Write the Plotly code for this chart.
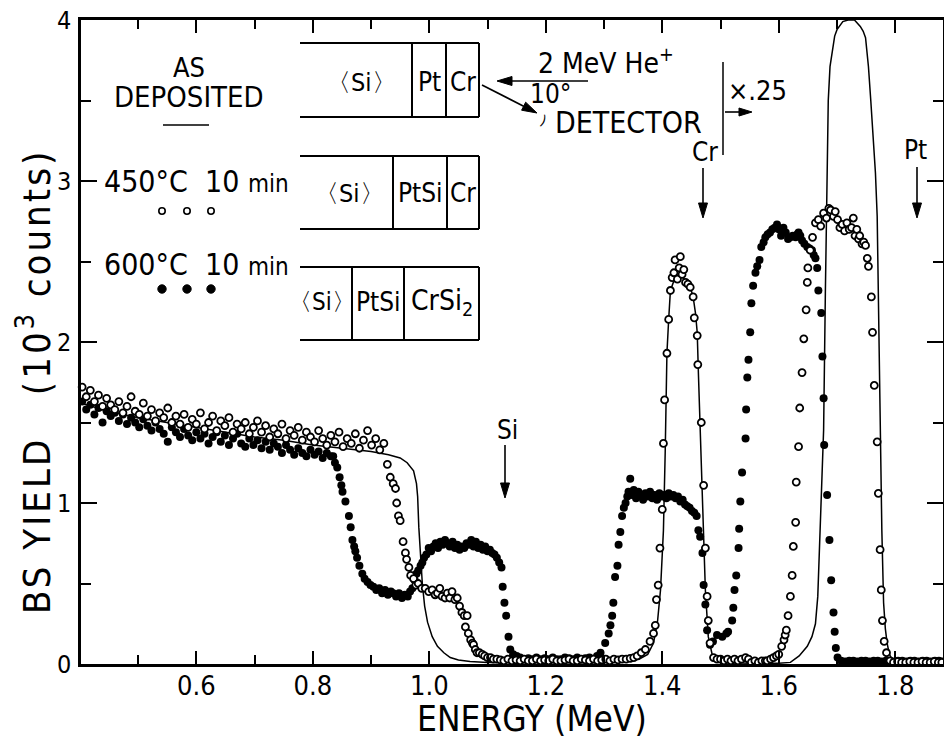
import math
import plotly.graph_objects as go

# ---------------- data ----------------
# As deposited: solid line (energy MeV, yield 10^3 counts)
dep_E = [0.402, 0.45, 0.50, 0.55, 0.60, 0.65, 0.70, 0.75, 0.80, 0.85, 0.90, 0.93, 0.95, 0.962, 0.973,
         0.978, 0.980, 0.982, 0.985, 0.988, 0.992, 0.997, 1.005, 1.014, 1.025, 1.036, 1.05, 1.07, 1.10,
         1.15, 1.20, 1.25, 1.30, 1.33, 1.36, 1.375, 1.385, 1.392, 1.397, 1.402, 1.405, 1.408, 1.411,
         1.414, 1.419, 1.426, 1.435, 1.443, 1.449, 1.453, 1.457, 1.460, 1.462, 1.465, 1.468, 1.471,
         1.474, 1.479, 1.488, 1.50, 1.55, 1.60, 1.62, 1.635, 1.649, 1.657, 1.663, 1.667, 1.671, 1.674,
         1.677, 1.680, 1.683, 1.685, 1.688, 1.692, 1.696, 1.700, 1.710, 1.719, 1.730, 1.740, 1.745,
         1.749, 1.754, 1.758, 1.762, 1.766, 1.769, 1.772, 1.774, 1.777, 1.780, 1.783, 1.786, 1.790,
         1.796, 1.81, 1.85, 1.882]
dep_Y = [1.62, 1.57, 1.53, 1.50, 1.47, 1.44, 1.41, 1.39, 1.36, 1.34, 1.32, 1.30, 1.28, 1.25, 1.20,
         1.12, 1.04, 0.85, 0.65, 0.50, 0.36, 0.26, 0.17, 0.11, 0.07, 0.04, 0.025, 0.015, 0.01,
         0.008, 0.008, 0.008, 0.01, 0.015, 0.03, 0.06, 0.13, 0.27, 0.46, 0.83, 1.31, 1.93, 2.14,
         2.32, 2.37, 2.40, 2.40, 2.37, 2.33, 2.28, 2.18, 2.06, 1.81, 1.45, 1.15, 0.83,
         0.46, 0.17, 0.02, 0.01, 0.005, 0.005, 0.01, 0.05, 0.11, 0.17, 0.25, 0.42, 0.83, 1.10,
         1.45, 2.30, 3.10, 3.50, 3.71, 3.81, 3.90, 3.94, 3.99, 4.00, 4.00, 3.96, 3.93,
         3.89, 3.71, 3.50, 3.30, 3.05, 2.78, 2.00, 1.45, 0.83, 0.38, 0.22, 0.13, 0.06,
         0.02, 0.01, 0.01, 0.01]

# 450 C 10 min: open circles
o450_E = [0.404, 0.411, 0.418, 0.425, 0.432, 0.439, 0.446, 0.453, 0.460, 0.467, 0.474, 0.481, 0.488,
          0.495, 0.502, 0.509, 0.516, 0.523, 0.530, 0.537, 0.544, 0.551, 0.558, 0.565, 0.572, 0.579,
          0.586, 0.593, 0.600, 0.607, 0.614, 0.621, 0.628, 0.635, 0.642, 0.649, 0.656, 0.663, 0.670,
          0.677, 0.684, 0.691, 0.698, 0.705, 0.712, 0.719, 0.726, 0.733, 0.740, 0.747, 0.754, 0.761,
          0.768, 0.775, 0.782, 0.789, 0.796, 0.803, 0.810, 0.817, 0.824, 0.831, 0.838, 0.845, 0.852,
          0.859, 0.866, 0.873, 0.880, 0.887, 0.894, 0.901, 0.908, 0.915, 0.922,
          0.928, 0.933, 0.938, 0.942, 0.944, 0.947, 0.950, 0.955, 0.959, 0.961, 0.965, 0.968, 0.973,
          0.977, 0.981, 0.987, 0.993, 0.999, 1.005, 1.010, 1.014, 1.018, 1.022, 1.027, 1.031, 1.035,
          1.039, 1.044, 1.048, 1.052, 1.056, 1.060, 1.062, 1.065, 1.067, 1.071, 1.074, 1.076, 1.079,
          1.082, 1.086, 1.091, 1.095, 1.100, 1.105, 1.110, 1.116, 1.122,
          1.128, 1.135, 1.142, 1.149, 1.156, 1.163, 1.170, 1.177, 1.184, 1.191, 1.198, 1.205, 1.212,
          1.219, 1.226, 1.233, 1.240, 1.247, 1.254, 1.261, 1.268, 1.275, 1.282, 1.289, 1.296, 1.303,
          1.310, 1.317, 1.324, 1.331, 1.338, 1.345, 1.351,
          1.357, 1.364, 1.371, 1.379, 1.385, 1.388, 1.390, 1.393, 1.396, 1.400, 1.402, 1.404, 1.408,
          1.411, 1.414, 1.417, 1.420, 1.422, 1.426, 1.429, 1.431, 1.434, 1.437, 1.440, 1.444, 1.448,
          1.453, 1.455, 1.460, 1.461, 1.467, 1.471, 1.474, 1.477, 1.479, 1.482, 1.488, 1.494, 1.500,
          1.506, 1.512, 1.518, 1.524, 1.530, 1.536, 1.543, 1.548, 1.553, 1.559, 1.565, 1.571, 1.577,
          1.580, 1.586, 1.591, 1.596, 1.600, 1.605, 1.609, 1.611, 1.613, 1.616, 1.620, 1.623, 1.625,
          1.629, 1.630, 1.634, 1.636, 1.640, 1.643, 1.647, 1.649, 1.650, 1.654, 1.658, 1.663, 1.668,
          1.672, 1.677, 1.682, 1.686, 1.689, 1.694, 1.697, 1.701, 1.705, 1.709, 1.713, 1.717, 1.721,
          1.725, 1.728, 1.731, 1.734, 1.737, 1.739, 1.743, 1.746, 1.749, 1.752, 1.754, 1.759, 1.761,
          1.764, 1.769, 1.771, 1.774, 1.776, 1.778, 1.781, 1.785, 1.791,
          1.797, 1.804, 1.811, 1.818, 1.825, 1.832, 1.839, 1.846, 1.853, 1.860, 1.867, 1.874, 1.880]
o450_Y = [1.72, 1.66, 1.70, 1.63, 1.67, 1.60, 1.65, 1.61, 1.58, 1.63, 1.56, 1.60, 1.66,
          1.57, 1.55, 1.62, 1.54, 1.58, 1.51, 1.56, 1.53, 1.59, 1.50, 1.54, 1.49, 1.55,
          1.47, 1.52, 1.49, 1.56, 1.46, 1.50, 1.54, 1.45, 1.51, 1.48, 1.53, 1.44, 1.49,
          1.46, 1.50, 1.43, 1.47, 1.51, 1.44, 1.48, 1.41, 1.46, 1.43, 1.49, 1.40, 1.45,
          1.42, 1.47, 1.39, 1.44, 1.41, 1.38, 1.45, 1.40, 1.36, 1.42, 1.38, 1.44, 1.35,
          1.40, 1.37, 1.43, 1.34, 1.39, 1.45, 1.36, 1.40, 1.33, 1.37,
          1.24, 1.16, 1.12, 1.09, 1.00, 0.92, 0.89, 0.76, 0.69, 0.65, 0.60, 0.55, 0.53,
          0.49, 0.50, 0.47, 0.47, 0.45, 0.46, 0.43, 0.44, 0.47, 0.42, 0.41, 0.44, 0.41,
          0.45, 0.40, 0.41, 0.36, 0.32, 0.30, 0.23, 0.30, 0.19, 0.15, 0.13, 0.12, 0.09,
          0.07, 0.07, 0.06, 0.05, 0.04, 0.04, 0.03, 0.03, 0.025,
          0.02, 0.03, 0.02, 0.025, 0.02, 0.03, 0.02, 0.02, 0.03, 0.02, 0.025, 0.02, 0.03,
          0.02, 0.02, 0.025, 0.03, 0.02, 0.02, 0.03, 0.025, 0.02, 0.03, 0.02, 0.025, 0.03,
          0.02, 0.03, 0.025, 0.03, 0.03, 0.035, 0.04,
          0.05, 0.07, 0.09, 0.14, 0.19, 0.24, 0.40, 0.49, 0.72, 0.96, 1.37, 1.64, 1.93,
          2.14, 2.32, 2.40, 2.43, 2.51, 2.39, 2.46, 2.53, 2.42, 2.45, 2.37, 2.36, 2.34,
          2.28, 2.15, 2.04, 1.86, 1.50, 1.11, 0.72, 0.42, 0.27, 0.13, 0.04, 0.03, 0.03,
          0.02, 0.03, 0.02, 0.03, 0.02, 0.03, 0.04, 0.03, 0.01, 0.02, 0.01, 0.02, 0.02,
          0.02, 0.03, 0.04, 0.05, 0.06, 0.11, 0.15, 0.18, 0.21, 0.30, 0.42, 0.55, 0.73,
          0.88, 1.13, 1.35, 1.59, 1.81, 2.02, 2.20, 2.37, 2.46, 2.57, 2.65, 2.74, 2.76,
          2.72, 2.80, 2.77, 2.83, 2.82, 2.78, 2.81, 2.76, 2.71, 2.73, 2.69, 2.74, 2.70,
          2.71, 2.77, 2.66, 2.70, 2.64, 2.66, 2.61, 2.62, 2.60, 2.52, 2.47, 2.28, 2.06,
          1.73, 1.38, 1.06, 0.71, 0.46, 0.27, 0.14, 0.07, 0.02,
          0.01, 0.015, 0.01, 0.01, 0.015, 0.01, 0.01, 0.015, 0.01, 0.01, 0.015, 0.01, 0.01]

# 600 C 10 min: filled circles
f600_E = [0.404, 0.411, 0.418, 0.425, 0.432, 0.439, 0.446, 0.453, 0.460, 0.467, 0.474, 0.481, 0.488,
          0.495, 0.502, 0.509, 0.516, 0.523, 0.530, 0.537, 0.544, 0.551, 0.558, 0.565, 0.572, 0.579,
          0.586, 0.593, 0.600, 0.607, 0.614, 0.621, 0.628, 0.635, 0.642, 0.649, 0.656, 0.663, 0.670,
          0.677, 0.684, 0.691, 0.698, 0.705, 0.712, 0.719, 0.726, 0.733, 0.740, 0.747, 0.754, 0.761,
          0.768, 0.775, 0.782, 0.789, 0.796, 0.803, 0.810, 0.817, 0.824, 0.831,
          0.835, 0.838, 0.842, 0.846, 0.849, 0.851, 0.856, 0.862, 0.865, 0.868, 0.871, 0.873, 0.876,
          0.880, 0.885, 0.889, 0.894, 0.899, 0.904, 0.909, 0.914, 0.919, 0.924, 0.929, 0.934, 0.938,
          0.943, 0.948, 0.953, 0.958, 0.963, 0.967, 0.971, 0.975, 0.978, 0.981, 0.985, 0.988, 0.991,
          0.995, 0.999, 1.003, 1.007, 1.011, 1.015, 1.019, 1.023, 1.027, 1.031, 1.035, 1.040, 1.044,
          1.048, 1.052, 1.056, 1.060, 1.064, 1.068, 1.072, 1.076, 1.080, 1.084, 1.088, 1.092, 1.096,
          1.100, 1.104, 1.108, 1.112, 1.116, 1.120, 1.124, 1.126, 1.129, 1.132, 1.136, 1.139, 1.144,
          1.150, 1.156,
          1.163, 1.170, 1.177, 1.184, 1.191, 1.198, 1.205, 1.212, 1.219, 1.226, 1.233, 1.240, 1.247,
          1.254, 1.261, 1.268, 1.275, 1.282, 1.288,
          1.294, 1.302, 1.308, 1.311, 1.314, 1.316, 1.319, 1.323, 1.325, 1.328, 1.331, 1.334, 1.337,
          1.340, 1.342, 1.345, 1.348, 1.351, 1.355, 1.359, 1.363, 1.367, 1.371, 1.375, 1.379, 1.383,
          1.387, 1.391, 1.395, 1.399, 1.403, 1.407, 1.411, 1.415, 1.419, 1.423, 1.427, 1.431, 1.435,
          1.439, 1.443, 1.447, 1.451, 1.455, 1.459, 1.462, 1.465, 1.469, 1.471, 1.474, 1.477, 1.482,
          1.487, 1.494, 1.503, 1.510, 1.513, 1.520, 1.522, 1.524, 1.527, 1.531, 1.532, 1.534, 1.537,
          1.543, 1.544, 1.546, 1.548, 1.551, 1.553, 1.556, 1.560, 1.563, 1.567, 1.570, 1.574, 1.577,
          1.581, 1.585, 1.589, 1.593, 1.597, 1.600, 1.604, 1.608, 1.612, 1.616, 1.620, 1.624, 1.629,
          1.632, 1.634, 1.637, 1.640, 1.644, 1.649, 1.653, 1.657, 1.660, 1.663, 1.666, 1.668, 1.673,
          1.675, 1.677, 1.678, 1.683, 1.687, 1.690, 1.694, 1.696, 1.698, 1.701,
          1.707, 1.714, 1.721, 1.728, 1.735, 1.742, 1.749, 1.756, 1.763, 1.770, 1.777, 1.784, 1.791,
          1.798, 1.805, 1.812, 1.819, 1.826, 1.833, 1.840, 1.847, 1.854, 1.861, 1.868, 1.875, 1.881]
f600_Y = [1.63, 1.58, 1.61, 1.55, 1.59, 1.50, 1.57, 1.54, 1.56, 1.51, 1.55, 1.49, 1.53,
          1.50, 1.47, 1.52, 1.48, 1.45, 1.50, 1.46, 1.43, 1.38, 1.47, 1.44, 1.41, 1.46,
          1.42, 1.39, 1.44, 1.40, 1.43, 1.37, 1.41, 1.44, 1.38, 1.42, 1.36, 1.40, 1.43,
          1.37, 1.35, 1.40, 1.36, 1.39, 1.34, 1.38, 1.33, 1.37, 1.35, 1.31, 1.36, 1.33,
          1.30, 1.34, 1.31, 1.29, 1.33, 1.30, 1.32, 1.28, 1.31, 1.29,
          1.29, 1.25, 1.22, 1.16, 1.11, 1.07, 1.01, 0.92, 0.85, 0.77, 0.73, 0.70, 0.66,
          0.61, 0.56, 0.53, 0.51, 0.49, 0.48, 0.46, 0.47, 0.44, 0.46, 0.43, 0.45, 0.44,
          0.42, 0.44, 0.41, 0.43, 0.42, 0.45, 0.47, 0.52, 0.56, 0.58, 0.61, 0.63, 0.66,
          0.68, 0.72, 0.70, 0.73, 0.75, 0.72, 0.76, 0.74, 0.77, 0.75, 0.73, 0.76, 0.72,
          0.74, 0.71, 0.73, 0.72, 0.75, 0.74, 0.77, 0.73, 0.76, 0.72, 0.74, 0.71, 0.73,
          0.70, 0.71, 0.69, 0.68, 0.66, 0.63, 0.60, 0.48, 0.38, 0.30, 0.17, 0.09, 0.06,
          0.05, 0.04,
          0.03, 0.035, 0.03, 0.04, 0.03, 0.035, 0.03, 0.04, 0.03, 0.03, 0.04, 0.035, 0.03,
          0.04, 0.03, 0.035, 0.04, 0.03, 0.05,
          0.07, 0.13, 0.19, 0.24, 0.30, 0.38, 0.54, 0.61, 0.74, 0.82, 0.92, 0.97, 1.00,
          1.04, 1.07, 1.15, 1.05, 1.08, 1.03, 1.07, 1.05, 1.02, 1.06, 1.04, 1.07, 1.03,
          1.05, 1.02, 1.06, 1.04, 1.05, 1.03, 1.06, 1.04, 1.05, 1.03, 1.04, 1.01, 1.02,
          0.99, 0.98, 0.97, 0.95, 0.94, 0.92, 0.83, 0.79, 0.69, 0.49, 0.37, 0.21, 0.12,
          0.14, 0.18, 0.17, 0.19, 0.20, 0.27, 0.35, 0.46, 0.55, 0.72, 0.84, 1.01, 1.19,
          1.40, 1.58, 1.78, 1.89, 2.06, 2.24, 2.35, 2.43, 2.47, 2.51, 2.59, 2.62, 2.65,
          2.67, 2.68, 2.70, 2.71, 2.73, 2.70, 2.66, 2.71, 2.68, 2.64, 2.65, 2.66, 2.65,
          2.67, 2.68, 2.66, 2.63, 2.61, 2.59, 2.58, 2.57, 2.54, 2.52, 2.46, 2.32, 2.18,
          1.91, 1.65, 1.36, 1.05, 0.77, 0.52, 0.32, 0.20, 0.10, 0.04,
          0.02, 0.015, 0.02, 0.02, 0.015, 0.02, 0.02, 0.015, 0.02, 0.02, 0.015, 0.02, 0.02,
          0.015, 0.02, 0.02, 0.015, 0.02, 0.02, 0.015, 0.02, 0.02, 0.015, 0.02, 0.02, 0.015]

x_ticks = [0.6, 0.8, 1.0, 1.2, 1.4, 1.6, 1.8]
x_tick_text = ["0.6", "0.8", "1.0", "1.2", "1.4", "1.6", "1.8"]
y_ticks = [0, 1, 2, 3, 4]
y_tick_text = ["0", "1", "2", "3", "4"]

# ---------------- layout helpers ----------------
W, H = 944, 741
L, R, T, B = 81, 1, 20, 77
PW, PH = W - L - R, H - T - B
FONT = "Liberation Sans Narrow, DejaVu Sans Condensed, Arial Narrow, sans-serif"
NB = "\u00a0"


def px(x):
    return (x - L) / PW


def py(y):
    return (H - B - y) / PH


fig = go.Figure()
fig.add_trace(go.Scatter(x=dep_E, y=dep_Y, mode="lines", line=dict(color="black", width=1.5),
                         name="AS DEPOSITED", cliponaxis=True, showlegend=False))
fig.add_trace(go.Scatter(x=f600_E, y=f600_Y, mode="markers",
                         marker=dict(symbol="circle", size=8, color="black"),
                         name="600°C 10 min", cliponaxis=False, showlegend=False))
fig.add_trace(go.Scatter(x=o450_E, y=o450_Y, mode="markers",
                         marker=dict(symbol="circle", size=7, color="white",
                                     line=dict(color="black", width=1.8)),
                         name="450°C 10 min", cliponaxis=False, showlegend=False))

shapes = []
ann = []


def seg(x0, y0, x1, y1, w=2):
    shapes.append(dict(type="line", xref="paper", yref="paper", x0=px(x0), x1=px(x1),
                       y0=py(y0), y1=py(y1), line=dict(color="black", width=w)))


def hline(x0, x1, y, w=2):
    seg(x0, y, x1, y, w)


def vline(x, y0, y1, w=2):
    seg(x, y0, x, y1, w)


def text(x, y, s, size=26, angle=0, h=None):
    a = dict(xref="paper", yref="paper", x=px(x), y=py(y), text=s, showarrow=False,
             xanchor="center", yanchor="middle", textangle=angle,
             font=dict(family=FONT, size=size, color="black"))
    if h is not None:
        a["height"] = h
    ann.append(a)


def arrow(xt, yt, xs, ys, head=15, half=4.5):
    dx, dy = xt - xs, yt - ys
    n = math.hypot(dx, dy)
    ux, uy = dx / n, dy / n
    bx, by = xt - ux * head, yt - uy * head
    seg(xs, ys, bx, by, 1.6)
    c1 = (bx - uy * half, by + ux * half)
    c2 = (bx + uy * half, by - ux * half)
    path = "M {:.5f},{:.5f} L {:.5f},{:.5f} L {:.5f},{:.5f} Z".format(
        px(xt), py(yt), px(c1[0]), py(c1[1]), px(c2[0]), py(c2[1]))
    shapes.append(dict(type="path", xref="paper", yref="paper", path=path,
                       fillcolor="black", line=dict(color="black", width=1)))


# layer diagrams
for top, bot, divs in [(43, 117, [412, 446]), (156, 229, [393, 447]), (267, 340, [352, 404])]:
    hline(300, 479, top)
    hline(300, 479, bot)
    vline(479, top, bot)
    for d in divs:
        vline(d, top, bot)
text(361, 82, "〈Si〉", 25)
text(429, 82, "Pt", 26)
text(463, 82, "Cr", 26)
text(349, 193, "〈Si〉", 25)
text(420, 193, "PtSi", 26)
text(463, 193, "Cr", 26)
text(322, 302, "〈Si〉", 24)
text(378, 302, "PtSi", 26)
text(442, 302, "CrSi<sub>2</sub>", 28)

# legend block
text(189, 67, "AS", 27, h=26)
text(189, 97, "DEPOSITED", 29, h=26)
hline(163, 209, 125, 1.5)
text(196, 181, "450°C" + NB * 2 + "10" + NB + "<span style='font-size:24px'>min</span>", 30)
text(196, 264, "600°C" + NB * 2 + "10" + NB + "<span style='font-size:24px'>min</span>", 30)
for cx in [162, 187, 211]:
    r = 3.2
    shapes.append(dict(type="circle", xref="paper", yref="paper", x0=px(cx - r), x1=px(cx + r),
                       y0=py(211 + r), y1=py(211 - r), line=dict(color="black", width=1.6),
                       fillcolor="white"))
    r = 4.2
    shapes.append(dict(type="circle", xref="paper", yref="paper", x0=px(cx - r), x1=px(cx + r),
                       y0=py(289 + r), y1=py(289 - r), line=dict(color="black", width=1),
                       fillcolor="black"))

# beam / detector sketch
text(606, 62, "2 MeV He<sup>+</sup>", 28)
arrow(497, 81, 588, 81)
text(550, 94, "10°", 26, h=24)
arrow(537, 113, 482, 85)
text(543, 120, ")", 14, angle=20)
text(628, 122, "DETECTOR", 30, h=28)

# x.25 marker
vline(723, 62, 155, 1.5)
arrow(752, 112, 725, 112, head=13, half=4)
text(757, 90, "×.25", 27)

# element edge markers
text(705, 152, "Cr", 26)
arrow(703, 218, 703, 168)
text(915, 150, "Pt", 26)
arrow(917, 218, 917, 167)
text(507, 430, "Si", 26)
arrow(505, 498, 505, 445)

# axis titles
text(532, 719, "ENERGY (MeV)", 35, h=36)
text(34, 382,
     "<span style='letter-spacing:3px'>BS YIELD" + NB * 3 + "(10<sup>3</sup> counts)</span>",
     38, angle=-90)

fig.update_layout(
    width=W, height=H, margin=dict(l=L, r=R, t=T, b=B, pad=0),
    plot_bgcolor="white", paper_bgcolor="white",
    font=dict(family=FONT, color="black"),
    shapes=shapes, annotations=ann, showlegend=False,
    xaxis=dict(range=[0.402, 1.882], tickvals=x_ticks, ticktext=x_tick_text, ticks="inside",
               ticklen=13, tickwidth=2, tickcolor="black", showline=True, linewidth=2.5,
               linecolor="black", mirror="ticks", showgrid=False, zeroline=False,
               automargin=False,
               tickfont=dict(family=FONT, size=27, color="black"), ticklabelstandoff=-4,
               minor=dict(ticks="inside", dtick=0.1, tick0=0.4, ticklen=9, tickwidth=1.5,
                          tickcolor="black", showgrid=False)),
    yaxis=dict(range=[0, 4], tickvals=y_ticks, ticktext=y_tick_text, ticks="inside",
               ticklen=16, tickwidth=2, tickcolor="black", showline=True, linewidth=2.5,
               linecolor="black", mirror="ticks", showgrid=False, zeroline=False,
               automargin=False,
               tickfont=dict(family=FONT, size=25, color="black"), ticklabelstandoff=2,
               minor=dict(ticks="inside", dtick=0.5, tick0=0, ticklen=10, tickwidth=1.5,
                          tickcolor="black", showgrid=False)),
)

fig.write_html("out.html", config={"displayModeBar": False},
               post_script="document.body.style.margin='0px';document.body.style.overflow='hidden';")
